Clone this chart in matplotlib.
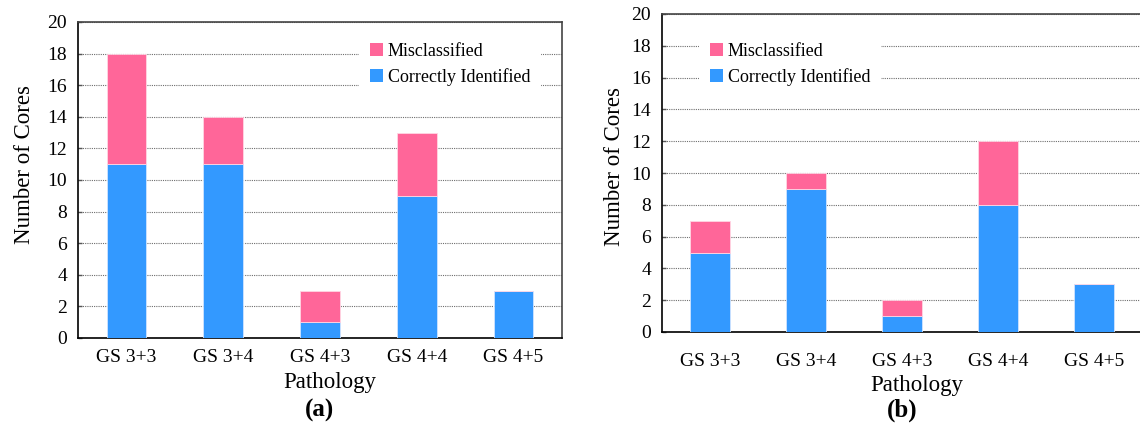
import matplotlib
matplotlib.use("Agg")
import matplotlib.pyplot as plt
from matplotlib.patches import Patch

categories = ["GS 3+3", "GS 3+4", "GS 4+3", "GS 4+4", "GS 4+5"]
correct_a = [11, 11, 1, 9, 3]
misclassified_a = [7, 3, 2, 4, 0]
correct_b = [5, 9, 1, 8, 3]
misclassified_b = [2, 1, 1, 4, 0]
y_ticks = list(range(0, 21, 2))

PINK = "#FF6699"
BLUE = "#3399FF"

plt.rcParams["font.family"] = ["Liberation Serif", "DejaVu Serif"]

fig = plt.figure(figsize=(11.4, 4.24), dpi=100)
W, H = 1140, 424


def add_panel(rect_px, correct, mis, tag, legend_px, ylabel_xy, xlabel_x, xpad):
    x0, y_top, x1, y_bot = rect_px
    ax = fig.add_axes([x0 / W, 1 - y_bot / H, (x1 - x0) / W, (y_bot - y_top) / H])
    pos = range(len(categories))
    ax.bar(pos, correct, width=0.41, color=BLUE, edgecolor="#cfe4ff", linewidth=0.6, zorder=3)
    ax.bar(pos, mis, bottom=correct, width=0.41, color=PINK, edgecolor="#ffd6e4",
           linewidth=0.6, zorder=3)
    ax.set_xlim(-0.5, len(categories) - 0.5)
    ax.set_ylim(0, 20)
    ax.set_yticks(y_ticks)
    ax.set_xticks(list(pos))
    ax.set_xticklabels(categories)
    ax.tick_params(axis="x", length=0, labelsize=14, colors="black", pad=xpad)
    ax.tick_params(axis="y", direction="in", length=3, width=1, color="#555555",
                   labelsize=14, labelcolor="black", pad=8)
    ax.yaxis.grid(True, linestyle=(0, (1, 1)), color="#6e6e6e", linewidth=0.8, zorder=0)
    ax.set_axisbelow(True)
    for s in ["left", "bottom"]:
        ax.spines[s].set_color("black")
        ax.spines[s].set_linewidth(1.2)
    for s in ["top", "right"]:
        ax.spines[s].set_color("#444444")
        ax.spines[s].set_linewidth(1.2)
    ax.set_ylabel("Number of Cores", fontsize=16.5)
    ax.yaxis.set_label_coords(*ylabel_xy)
    ax.set_xlabel("Pathology", fontsize=16.5, labelpad=4)
    ax.xaxis.label.set_x(xlabel_x)
    handles = [Patch(facecolor=PINK, edgecolor="none"), Patch(facecolor=BLUE, edgecolor="none")]
    lx, ly = legend_px
    leg = ax.legend(handles, ["Misclassified", "Correctly Identified"], loc="upper left",
                    bbox_to_anchor=((lx - x0) / (x1 - x0), (y_bot - ly) / (y_bot - y_top)),
                    frameon=True, fancybox=False, edgecolor="none", framealpha=1,
                    fontsize=13, handlelength=0.75, handleheight=0.75, handletextpad=0.25,
                    labelspacing=0.45, borderpad=0.6)
    leg.set_zorder(5)
    fig.text(((x0 + x1) / 2) / W, 1 - 410 / H, tag, ha="center", va="center",
             fontsize=18, fontweight="bold")
    return ax


add_panel((78, 22, 562, 338), correct_a, misclassified_a, "(a)", (350, 23),
          (-0.089, 0.55), 0.52, 8)
add_panel((662, 14, 1142, 332), correct_b, misclassified_b, "(b)", (690, 23),
          (-0.077, 0.52), 0.53, 15)

fig.savefig("out.png", dpi=100)
